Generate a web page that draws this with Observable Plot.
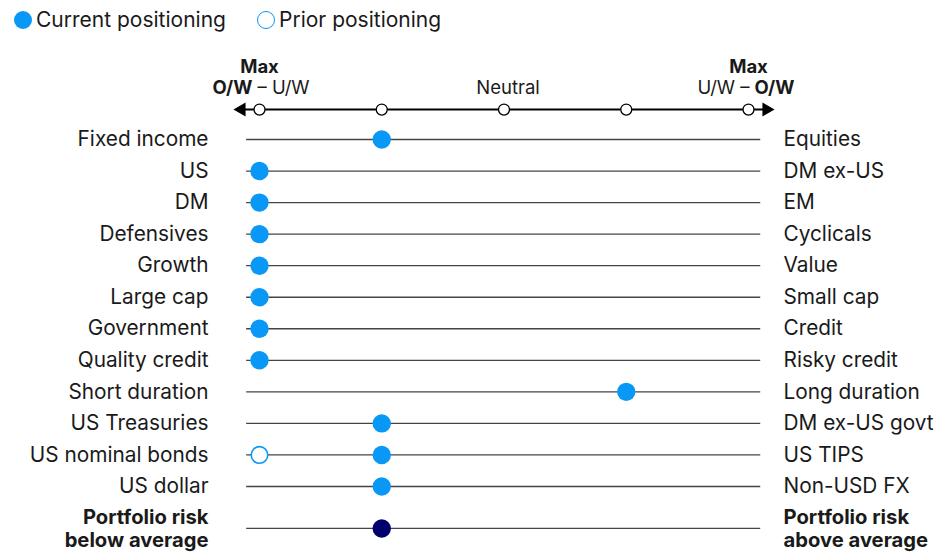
<!DOCTYPE html>
<html>
<head>
<meta charset="utf-8">
<script src="https://cdn.jsdelivr.net/npm/d3@7"></script>
<script src="https://cdn.jsdelivr.net/npm/@observablehq/plot@0.6"></script>
<style>
  html, body { margin: 0; padding: 0; background: #fff; }
  body { width: 950px; height: 552px; overflow: hidden; font-family: Inter, "Noto Sans", sans-serif; color: #1a1a1a; }
  #legend { height: 40px; position: relative; font-size: 21px; }
  .item { position: absolute; top: 7px; display: flex; align-items: center; }
  .sw { width: 18px; height: 18px; border-radius: 50%; box-sizing: border-box; margin-right: 4px; }
  svg { display: block; }
</style>
</head>
<body>
<div id="legend">
  <div class="item" style="left:14px"><span class="sw" style="background:#0A98F7"></span><span>Current positioning</span></div>
  <div class="item" style="left:257px"><span class="sw" style="border:1.6px solid #0A98F7;background:#fff"></span><span>Prior positioning</span></div>
</div>
<div id="chart"></div>
<script>
// ---- data ----
const leftLabels = ["Fixed income", "US", "DM", "Defensives", "Growth", "Large cap", "Government",
  "Quality credit", "Short duration", "US Treasuries", "US nominal bonds", "US dollar",
  "Portfolio risk\nbelow average"];
const rightLabels = ["Equities", "DM ex-US", "EM", "Cyclicals", "Value", "Small cap", "Credit",
  "Risky credit", "Long duration", "DM ex-US govt", "US TIPS", "Non-USD FX",
  "Portfolio risk\nabove average"];
// 1 = max O/W left, 3 = neutral, 5 = max O/W right
const current = [2, 1, 1, 1, 1, 1, 1, 1, 4, 2, 2, 2, 2];
const prior =   [null, null, null, null, null, null, null, null, null, null, 1, null, null];
const summaryRow = 12; // "Portfolio risk" row
const scalePoints = [1, 2, 3, 4, 5];

// ---- table ----
const rows = leftLabels.map((l, i) => ({
  i, left: l, right: rightLabels[i], cur: current[i], prior: prior[i],
  pos: i < summaryRow ? i : i + 0.33,
  summary: i === summaryRow
}));
const normalRows = rows.filter(d => !d.summary);
const boldRows = rows.filter(d => d.summary);
const axisY = -0.95;
const blue = "#0A98F7", navy = "#00006E", ink = "#1a1a1a";
const fs = 20.8, bfs = 20.2, hfs = 18.5;

const chart = Plot.plot({
  width: 950, height: 512,
  margin: 0,
  x: {domain: [1, 5], range: [259, 748], axis: null},
  y: {domain: [0, 11], range: [99, 446], axis: null},
  style: {fontFamily: "Inter, 'Noto Sans', sans-serif", color: ink},
  marks: [
    // row rules
    Plot.ruleY(rows, {y: "pos", x1: 0.895, x2: 5.1, stroke: "#444", strokeWidth: 1.3}),
    // header axis
    Plot.ruleY([axisY], {x1: 0.86, x2: 5.14, stroke: "#000", strokeWidth: 2}),
    Plot.dot([{x: 0.853, y: axisY}], {x: "x", y: "y", symbol: "triangle", r: 5.2, rotate: -90, fill: "#000", stroke: null}),
    Plot.dot([{x: 5.147, y: axisY}], {x: "x", y: "y", symbol: "triangle", r: 5.2, rotate: 90, fill: "#000", stroke: null}),
    Plot.dot(scalePoints, {x: d => d, y: () => axisY, r: 5.5, fill: "#fff", stroke: "#000", strokeWidth: 1.3}),
    // header labels
    Plot.text(["Max"], {x: () => 1, y: () => axisY, dy: -42, text: d => d, fontWeight: "bold", fontSize: hfs, fill: ink}),
    Plot.text(["Max"], {x: () => 5, y: () => axisY, dy: -42, text: d => d, fontWeight: "bold", fontSize: hfs, fill: ink}),
    Plot.text(["O/W"], {x: () => 1, y: () => axisY, dy: -21, dx: -7, text: d => d, textAnchor: "end", fontWeight: "bold", fontSize: hfs, fill: ink}),
    Plot.text(["– U/W"], {x: () => 1, y: () => axisY, dy: -21, dx: -2, text: d => d, textAnchor: "start", fontSize: hfs, fill: ink}),
    Plot.text(["U/W –"], {x: () => 5, y: () => axisY, dy: -21, dx: 1, text: d => d, textAnchor: "end", fontSize: hfs, fill: ink}),
    Plot.text(["O/W"], {x: () => 5, y: () => axisY, dy: -21, dx: 6, text: d => d, textAnchor: "start", fontWeight: "bold", fontSize: hfs, fill: ink}),
    Plot.text(["Neutral"], {x: () => 3, y: () => axisY, dy: -21, dx: 4, text: d => d, fontSize: hfs, fill: ink}),
    // row labels
    Plot.text(normalRows, {x: () => 1, y: "pos", dx: -51, text: "left", textAnchor: "end", fontSize: fs, fill: ink}),
    Plot.text(normalRows, {x: () => 5, y: "pos", dx: 35, text: "right", textAnchor: "start", fontSize: fs, fill: ink}),
    Plot.text(boldRows, {x: () => 1, y: "pos", dx: -51, text: "left", textAnchor: "end", lineHeight: 1.12, fontSize: bfs, fontWeight: "bold", fill: ink}),
    Plot.text(boldRows, {x: () => 5, y: "pos", dx: 35, text: "right", textAnchor: "start", lineHeight: 1.12, fontSize: bfs, fontWeight: "bold", fill: ink}),
    // prior positions
    Plot.dot(rows.filter(d => d.prior != null), {x: "prior", y: "pos", r: 8.3, fill: "#fff", stroke: blue, strokeWidth: 1.6}),
    // current positions
    Plot.dot(rows, {x: "cur", y: "pos", r: 9.2, fill: d => d.summary ? navy : blue, stroke: null})
  ]
});
document.getElementById("chart").appendChild(chart);
</script>
</body>
</html>
